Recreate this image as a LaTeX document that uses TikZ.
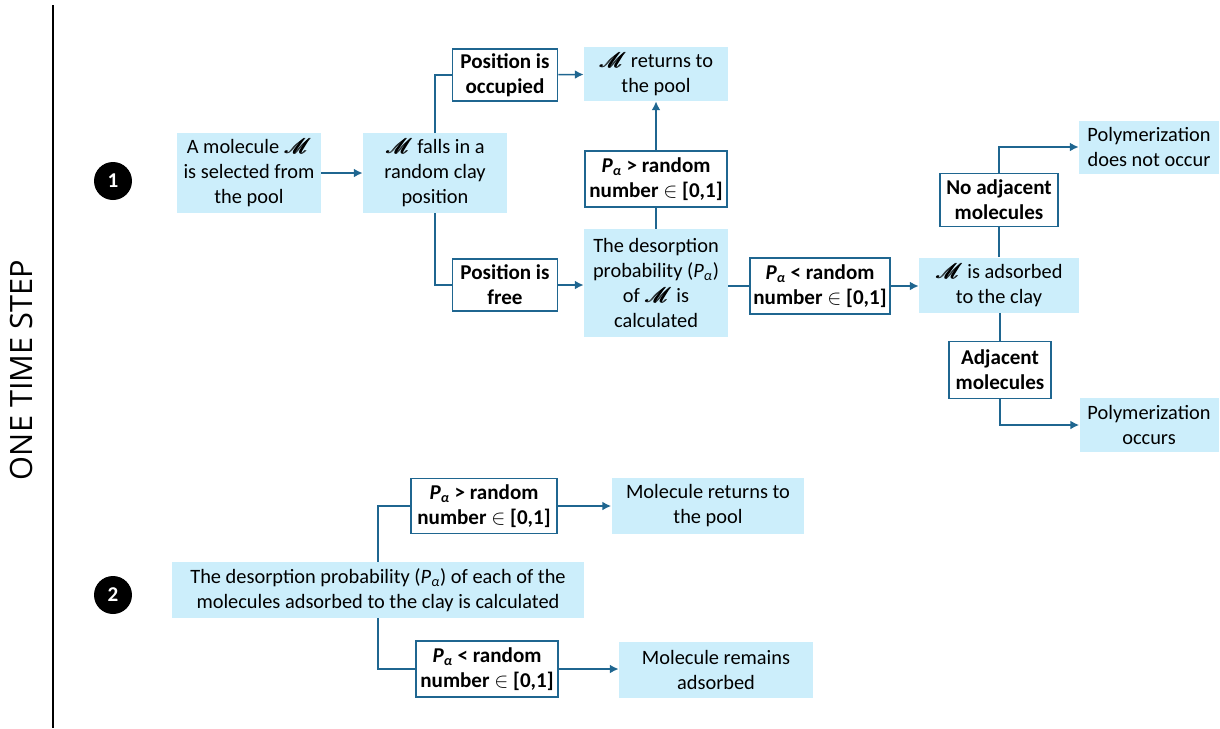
\documentclass[tikz,border=0pt]{standalone}
\usepackage{fontspec}
\usepackage{mathrsfs}
\setmainfont{Carlito}
\newfontfamily\sidefont{Open Sans}
\usetikzlibrary{arrows.meta}
\definecolor{boxblue}{HTML}{CCEEFB}
\definecolor{linkblue}{HTML}{1F6690}
\newcommand{\Mol}{{\large\rlap{$\mathscr{M}$}\kern0.35pt\rlap{$\mathscr{M}$}\kern0.35pt$\mathscr{M}$}}
\newcommand{\Pa}{\textit{P}\textsubscript{\textit{α}}}
\tikzset{
  bluebox/.style={fill=boxblue, align=center, inner sep=0pt},
  condbox/.style={draw=linkblue, line width=0.9pt, fill=white, align=center, inner sep=0pt, font=\fontsize{12}{14.2}\selectfont\bfseries},
  link/.style={draw=linkblue, line width=0.9pt},
  arrowlink/.style={link, -{Latex[length=5pt,width=5pt]}},
  stepnum/.style={circle, fill=black, text=white, font=\bfseries\large, minimum size=0.76cm, inner sep=0pt}
}
\begin{document}
\begin{tikzpicture}[x=0.02cm, y=-0.02cm, font=\fontsize{11.6}{14.2}\selectfont]
\useasboundingbox (0,0) rectangle (1220,728);

% Side label
\draw[line width=1pt] (53,5) -- (53,728);
\node[rotate=90, font=\sidefont\fontsize{17.5}{20}\selectfont] (label) at (22,370) {ONE TIME STEP};
\node[stepnum] (one) at (113,181) {1};
\node[stepnum] (two) at (113,595) {2};

% Part 1
\node[bluebox, minimum width=2.88cm, minimum height=1.6cm] (pick) at (249,173) {A molecule \Mol\\is selected from\\the pool};
\node[bluebox, minimum width=2.88cm, minimum height=1.6cm] (fall) at (435,173) {\Mol{} falls in a\\random clay\\position};
\node[condbox, minimum width=2.1cm, minimum height=1.04cm] (occ) at (505,75) {Position is\\occupied};
\node[bluebox, minimum width=2.88cm, minimum height=1.08cm] (back) at (656,74) {\Mol{} returns to\\the pool};
\node[condbox, minimum width=2.1cm, minimum height=1.04cm] (free) at (505,285) {Position is\\free};
\node[bluebox, minimum width=2.88cm, minimum height=2.16cm] (desorb) at (656,283) {The desorption\\probability (\Pa)\\of \Mol{} is\\calculated};
\node[condbox, minimum width=2.84cm, minimum height=1.12cm] (gtone) at (656,179) {\Pa{} > random\\number $\in$ [0,1]};
\node[condbox, minimum width=2.8cm, minimum height=1.12cm] (ltone) at (820,286) {\Pa{} < random\\number $\in$ [0,1]};
\node[bluebox, minimum width=3.2cm, minimum height=1.1cm] (ads) at (999,285) {\Mol{} is adsorbed\\to the clay};
\node[condbox, minimum width=2.36cm, minimum height=1.06cm] (noadj) at (999,200) {No adjacent\\molecules};
\node[condbox, minimum width=2.04cm, minimum height=1.14cm] (adj) at (1000,370) {Adjacent\\molecules};
\node[bluebox, minimum width=2.8cm, minimum height=1.06cm] (nopoly) at (1149,147) {Polymerization\\does not occur};
\node[bluebox, minimum width=2.78cm, minimum height=1.08cm] (poly) at (1149,425) {Polymerization\\occurs};

\draw[arrowlink] (pick) -- (fall);
\draw[link] (fall.north) |- (occ.west);
\draw[arrowlink] (occ) -- (back);
\draw[link] (fall.south) |- (free.west);
\draw[arrowlink] (free) -- (desorb.west |- free);
\draw[link] (desorb) -- (gtone);
\draw[arrowlink] (gtone) -- (back);
\draw[link] (desorb.east |- ltone) -- (ltone);
\draw[arrowlink] (ltone) -- (ads.west |- ltone);
\draw[link] (ads) -- (noadj);
\draw[arrowlink] (noadj.north) |- (nopoly.west);
\draw[link] (ads.south -| adj) -- (adj);
\draw[arrowlink] (adj.south) |- (poly.west);

% Part 2
\node[bluebox, minimum width=8.24cm, minimum height=1.12cm] (all) at (378,590) {The desorption probability (\Pa) of each of the\\molecules adsorbed to the clay is calculated};
\node[condbox, minimum width=2.92cm, minimum height=1.1cm] (gttwo) at (484,506) {\Pa{} > random\\number $\in$ [0,1]};
\node[bluebox, minimum width=3.86cm, minimum height=1.12cm] (backtwo) at (708,506) {Molecule returns to\\the pool};
\node[condbox, minimum width=2.84cm, minimum height=1.12cm] (lttwo) at (487,669) {\Pa{} < random\\number $\in$ [0,1]};
\node[bluebox, minimum width=3.88cm, minimum height=1.12cm] (stay) at (716,670) {Molecule remains\\adsorbed};

\draw[link] (all.north) |- (gttwo.west);
\draw[arrowlink] (gttwo) -- (backtwo);
\draw[link] (all.south) |- (lttwo.west);
\draw[arrowlink] (lttwo) -- (stay.west |- lttwo);
\end{tikzpicture}
\end{document}
